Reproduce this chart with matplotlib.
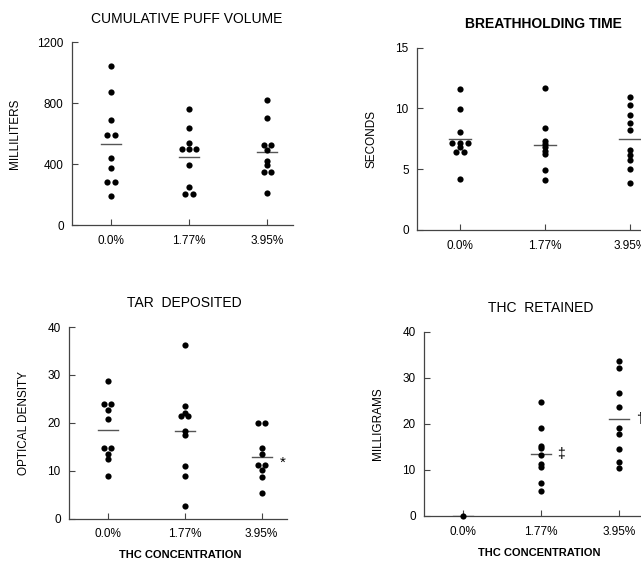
import numpy as np
import matplotlib
matplotlib.use("Agg")
import matplotlib.pyplot as plt

plt.rcParams['font.family'] = ['Liberation Sans', 'DejaVu Sans']

concentrations = ['0.0%', '1.77%', '3.95%']

# cumulative puff volume, milliliters
puff_0 = [1045, 876, 690, 591, 591, 439, 374, 282, 282, 192]
puff_177 = [761, 640, 542, 502, 502, 502, 395, 251, 207, 207]
puff_395 = [824, 704, 527, 527, 494, 424, 393, 350, 350, 210]

# breathholding time, seconds
breath_0 = [11.6, 9.96, 8.04, 7.13, 7.13, 7.13, 6.8, 6.45, 6.45, 4.2]
breath_177 = [11.66, 8.42, 7.3, 7.1, 6.8, 6.5, 6.25, 4.96, 4.09]
breath_395 = [10.95, 10.29, 9.49, 8.83, 8.22, 6.55, 6.2, 5.76, 5.02, 3.87]

# tar deposited, optical density
tar_0 = [28.8, 23.9, 23.9, 22.7, 20.7, 14.7, 14.7, 13.6, 12.4, 9.0]
tar_177 = [36.3, 23.6, 22.0, 21.4, 21.4, 18.4, 17.5, 11.1, 8.85, 2.65]
tar_395 = [20.0, 20.0, 14.7, 13.6, 11.2, 11.2, 10.2, 8.8, 5.3]

# THC retained, milligrams (none for placebo)
thc_0 = [0.0]
thc_177 = [24.7, 19.2, 15.2, 14.8, 13.2, 11.2, 10.6, 7.2, 5.4]
thc_395 = [33.6, 32.2, 26.8, 23.6, 19.2, 17.9, 14.6, 11.7, 10.5]


def swarm_x(i, vals, step=0.094):
    # spread identical values side by side
    xs = []
    vals = list(vals)
    for k, v in enumerate(vals):
        same = [j for j, w in enumerate(vals) if w == v]
        pos = same.index(k)
        xs.append(i + (pos - (len(same) - 1) / 2) * step)
    return xs


def panel(ax, groups, ymax, yticks, ylabel):
    for i, vals in enumerate(groups):
        ax.scatter(swarm_x(i, vals), vals, s=20, color='black', zorder=3,
                   clip_on=False, linewidths=0)
        m = np.mean(vals)
        ax.plot([i - 0.13, i + 0.13], [m, m], color='#555555', lw=1.0, zorder=2)
    ax.set_xlim(-0.5, 2.33)
    ax.set_ylim(0, ymax)
    ax.set_yticks(yticks)
    ax.set_xticks(range(3))
    ax.set_xticklabels(concentrations)
    for s in ['top', 'right']:
        ax.spines[s].set_visible(False)
    for s in ['left', 'bottom']:
        ax.spines[s].set_color('#444444')
        ax.spines[s].set_linewidth(0.9)
    ax.tick_params(direction='in', length=4, width=0.8, color='#444444',
                   labelsize=8.5, pad=6)
    ax.tick_params(axis='x', pad=7)
    ax.set_ylabel(ylabel, fontsize=8.5)


W, H = 641, 561
fig = plt.figure(figsize=(W / 100, H / 100), dpi=100)


def add_axes(left, right, top, bottom):
    return fig.add_axes([left / W, 1 - bottom / H, (right - left) / W, (bottom - top) / H])


ax1 = add_axes(72, 293, 42.3, 225.3)
ax2 = add_axes(417, 658, 47.7, 230)
ax3 = add_axes(69, 287, 327, 518.7)
ax4 = add_axes(424, 645, 331.7, 516)

panel(ax1, [puff_0, puff_177, puff_395], 1200, [0, 400, 800, 1200], 'MILLILITERS')
panel(ax2, [breath_0, breath_177, breath_395], 15, [0, 5, 10, 15], 'SECONDS')
panel(ax3, [tar_0, tar_177, tar_395], 40, [0, 10, 20, 30, 40], 'OPTICAL DENSITY')
panel(ax4, [thc_0, thc_177, thc_395], 40, [0, 10, 20, 30, 40], 'MILLIGRAMS')

ax1.yaxis.set_label_coords(-0.232, 0.5)
ax2.yaxis.set_label_coords(-0.164, 0.5)
ax3.yaxis.set_label_coords(-0.181, 0.5)
ax4.yaxis.set_label_coords(-0.179, 0.5)

# significance marks beside the group means
ax3.text(2.27, np.mean(tar_395) - 1.2, '*', fontsize=11, ha='center', va='center')
ax4.text(1.26, np.mean(thc_177), '\u2021', fontsize=10, ha='center', va='center')
ax4.text(2.27, np.mean(thc_395), '\u2020', fontsize=10, ha='center', va='center')


def ftext(x, y, s, **kw):
    fig.text(x / W, 1 - y / H, s, ha='center', va='center', **kw)


ftext(187, 19, 'CUMULATIVE PUFF VOLUME', fontsize=10)
ftext(543, 24, 'BREATHHOLDING TIME', fontsize=10, fontweight='bold')
ftext(184, 303, 'TAR  DEPOSITED', fontsize=10)
ftext(541, 308, 'THC  RETAINED', fontsize=10)
ftext(180, 555, 'THC CONCENTRATION', fontsize=8, fontweight='bold')
ftext(539, 553, 'THC CONCENTRATION', fontsize=8, fontweight='bold')

fig.savefig('out.png', dpi=100)
